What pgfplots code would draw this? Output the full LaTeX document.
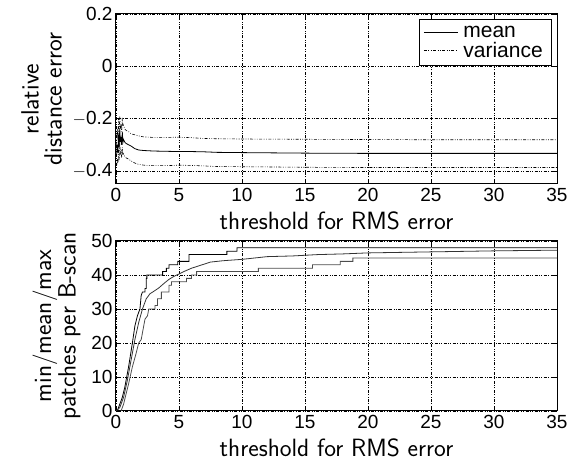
\documentclass[border=0pt]{standalone}
\usepackage{fontspec}
\usepackage{pgfplots}
\pgfplotsset{compat=1.18}
\newfontfamily\helv{Liberation Sans}
\begin{document}
\begin{tikzpicture}[x=1pt,y=1pt]
\pgfplotsset{
  myax/.style={
    scale only axis, width=441pt, height=170pt,
    xmin=0, xmax=35, xtick={0,5,...,35},
    axis line style={line width=1pt},
    tick align=inside, major tick length=5pt,
    every tick/.style={black, line width=0.6pt},
    grid=major,
    major grid style={black, line width=0.5pt, dash pattern=on 3pt off 1.5pt on 0.8pt off 1.5pt on 0.8pt off 1.5pt},
    /pgf/number format/assume math mode=true,
    tick label style={font=\helv\fontsize{19}{22}\selectfont},
    xticklabel style={yshift=-1pt},
    label style={font=\sffamily\fontsize{25}{23}\selectfont},
    xlabel={threshold for RMS error},
    xlabel style={yshift=-3pt},
  }
}
\begin{axis}[myax, at={(116pt,284pt)}, anchor=south west,
  ymin=-0.45, ymax=0.2, ytick={-0.4,-0.2,0,0.2},
  yticklabels={$-$0.4,$-$0.2,0,0.2},
  ylabel={relative\\distance error}, ylabel style={align=center, yshift=4pt},
  legend style={at={(rel axis cs:0.989,0.971)}, anchor=north east, font=\helv\fontsize{21}{24}\selectfont, draw=black, line width=0.8pt, inner xsep=4pt, inner ysep=5pt, row sep=-1pt, nodes={inner xsep=5pt}},
  legend image code/.code={\draw[#1] (0pt,0pt) -- (34pt,0pt);},
  legend cell align=left]
\addplot[black, line width=0.8pt] coordinates {(0.05,-0.34)(0.1,-0.30)(0.15,-0.33)(0.2,-0.26)(0.25,-0.31)(0.3,-0.24)(0.35,-0.29)(0.4,-0.27)(0.45,-0.30)(0.5,-0.25)(0.55,-0.29)(0.6,-0.28)(0.7,-0.29)(0.8,-0.295)(1.0,-0.30)(1.2,-0.305)(1.5,-0.315)(1.8,-0.32)(2.2,-0.322)(3,-0.324)(4,-0.325)(5,-0.326)(6,-0.326)(7,-0.327)(8,-0.329)(10,-0.330)(15,-0.332)(20,-0.333)(25,-0.333)(30,-0.333)(35,-0.333)};
\addlegendentry{mean}
\addplot[black, line width=0.6pt, dash pattern=on 3pt off 1.5pt on 0.8pt off 1.5pt on 0.8pt off 1.5pt] coordinates {(0.05,-0.30)(0.1,-0.24)(0.15,-0.28)(0.2,-0.20)(0.25,-0.26)(0.3,-0.19)(0.35,-0.24)(0.4,-0.22)(0.45,-0.25)(0.5,-0.195)(0.55,-0.23)(0.6,-0.225)(0.7,-0.24)(0.8,-0.245)(1.0,-0.25)(1.2,-0.258)(1.5,-0.262)(1.8,-0.266)(2.2,-0.27)(3,-0.272)(4,-0.272)(5,-0.271)(6,-0.273)(7,-0.276)(8,-0.277)(10,-0.278)(15,-0.279)(20,-0.28)(25,-0.281)(35,-0.281)};
\addlegendentry{variance}
\addplot[black, line width=0.6pt, dash pattern=on 3pt off 1.5pt on 0.8pt off 1.5pt on 0.8pt off 1.5pt, forget plot] coordinates {(0.05,-0.38)(0.1,-0.36)(0.15,-0.37)(0.2,-0.32)(0.25,-0.36)(0.3,-0.29)(0.35,-0.34)(0.4,-0.32)(0.45,-0.35)(0.5,-0.31)(0.55,-0.34)(0.6,-0.335)(0.7,-0.345)(0.8,-0.35)(1.0,-0.355)(1.2,-0.362)(1.5,-0.37)(1.8,-0.375)(2.2,-0.378)(3,-0.38)(4,-0.38)(5,-0.378)(6,-0.379)(7,-0.381)(8,-0.383)(10,-0.384)(15,-0.386)(20,-0.387)(35,-0.387)};
\end{axis}
\begin{axis}[myax, at={(116pt,57pt)}, anchor=south west,
  ymin=0, ymax=50, ytick={0,10,...,50},
  ylabel={$\mathsf{min}\big/\mathsf{mean}\big/\mathsf{max}$\\patches per B-scan}, ylabel style={align=center, yshift=4pt}]
\addplot[black, line width=0.8pt] coordinates {(0.1,0)(0.3,2)(0.5,4)(0.7,7)(1.0,13)(1.3,20)(1.5,25)(1.7,28)(1.9,30)(2.0,34)(2.1,35)(2.3,35)(2.3,36)(2.4,36)(2.4,39)(2.45,39)(2.45,40)(3.7,40)(3.7,41)(4.0,41)(4.0,42)(4.2,42)(4.2,43)(4.9,43)(4.9,44)(5.8,44)(5.8,46)(8.8,46)(8.8,47)(9.6,47)(9.6,48)(35,48)};
\addplot[black!80, line width=0.8pt] coordinates {(0,0)(0.3,1)(0.6,4)(0.9,9)(1.2,15)(1.5,21)(1.8,26)(2.1,30)(2.4,33)(2.7,34.5)(3.0,35.2)(3.4,36.2)(3.8,37.5)(4.2,38.7)(4.6,39.6)(5.0,40.3)(5.5,41.2)(6.0,42)(6.5,42.6)(7,43.2)(7.5,43.8)(8.5,44.2)(10,44.6)(11,45)(12,45.4)(14,45.6)(16,46)(18,46.2)(20,46.5)(25,46.8)(30,47.1)(35,47.3)};
\addplot[black!70, line width=0.8pt] coordinates {(0.4,0)(0.6,2)(0.8,5)(1.0,8)(1.3,13)(1.6,17)(1.8,20)(2.0,21)(2.1,23)(2.2,25)(2.3,27)(2.5,28)(2.6,30)(3.1,30)(3.1,31)(3.3,31)(3.3,33)(3.6,33)(3.6,35)(4.2,35)(4.2,37)(4.4,37)(4.4,38)(5.6,38)(5.6,39)(6.0,39)(6.0,40)(6.4,40)(6.4,41)(11.3,41)(11.3,42)(15.6,42)(15.6,43)(17.8,43)(17.8,44)(18.8,44)(18.8,45)(35,45)};
\end{axis}
\path[use as bounding box] (0pt,0pt) rectangle (579pt,468pt);
\end{tikzpicture}
\end{document}
